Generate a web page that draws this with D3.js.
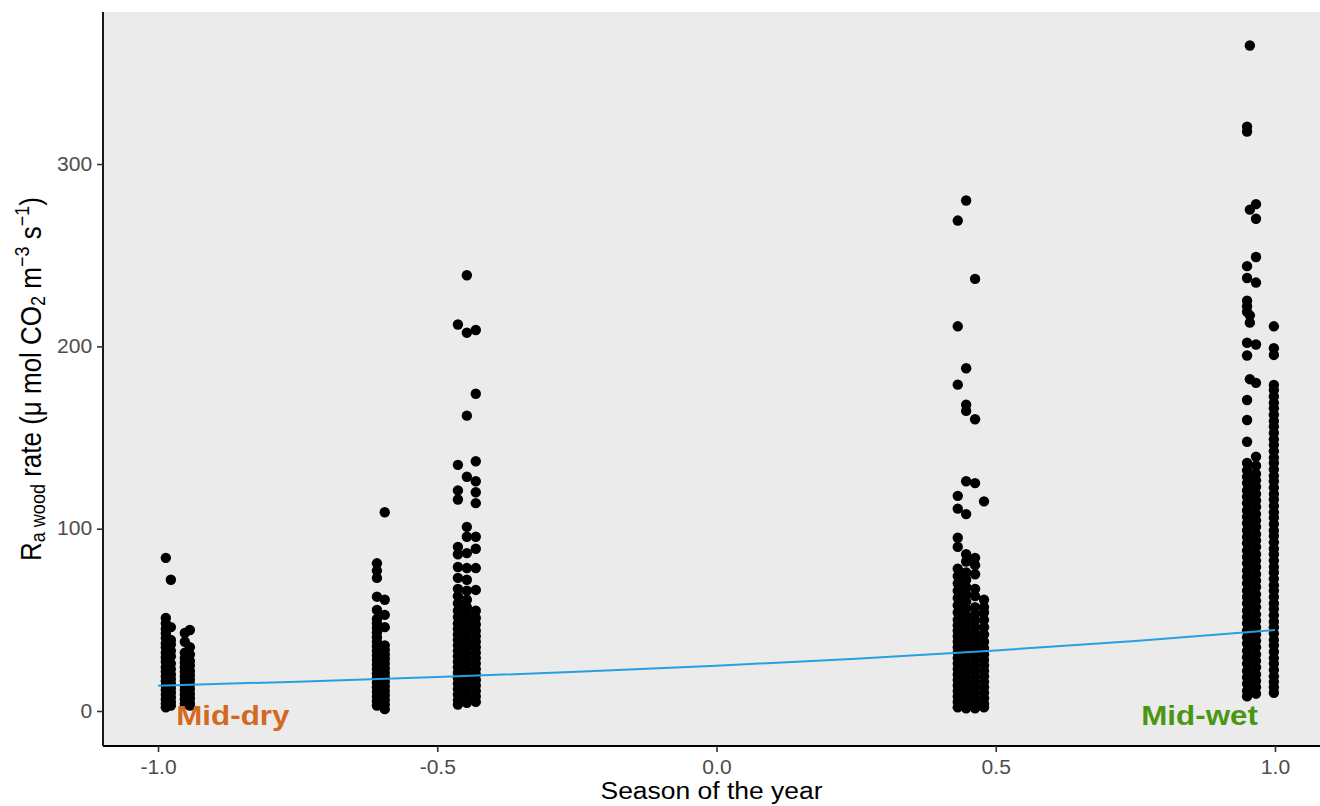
<!DOCTYPE html>
<html>
<head>
<meta charset="utf-8">
<script src="https://cdn.jsdelivr.net/npm/d3@7"></script>
<style>
  html, body { margin: 0; padding: 0; background: #ffffff; }
  svg { display: block; font-family: "Liberation Sans", Arial, sans-serif; }
</style>
</head>
<body>
<svg id="chart" width="1320" height="806"></svg>
<script>
// ---- Axis ticks ----
const xTicks = [-1, -0.5, 0, 0.5, 1];
const xTickLabels = ["-1.0", "-0.5", "0.0", "0.5", "1.0"];
const yTicks = [0, 100, 200, 300];
const yTickLabels = ["0", "100", "200", "300"];

// ---- Measured wood respiration, one array per sampling column (season value) ----
const dryEarlyA = [84, 51, 48, 45, 42.5, 40, 37, 35, 32, 29.5, 27, 24, 21.5, 19, 16.5, 14, 11.5, 9, 6.5, 4, 2];
const dryEarlyB = [72, 46, 39, 36.5, 33, 30, 26, 23, 20, 17.5, 15, 12.5, 10, 7.5, 5, 3];
const dryLateA  = [42.8, 38, 32, 29, 26.5, 24, 21.5, 19, 16.5, 14, 11.5, 9, 6.5, 4];
const dryLateB  = [44.4, 35, 31, 27.5, 25, 22, 19.5, 17, 14.5, 12, 9.5, 7, 4.5, 3];
const transDryA = [81, 77, 73, 62.7, 55.4, 50.5, 48, 45.5, 43, 40.5, 38, 35.5, 33, 30.5, 28, 25.5, 23, 20.5, 18, 15.5, 13, 10.5, 8, 5.5, 3];
const transDryB = [109, 61, 52.7, 46, 36, 33.5, 31, 28.5, 26, 23.5, 21, 18.5, 16, 13.5, 11, 8.5, 6, 3.5, 1];
const transWetA = [212, 135, 121, 116, 90, 86, 79, 73, 67, 63, 59, 55, 51.5, 48, 45, 42, 39, 36, 33, 30, 27, 24, 21, 18, 15, 12, 9, 6, 3.5];
const transWetB = [239, 207.5, 162, 128.5, 101, 95.6, 86.6, 78.4, 72, 66, 61, 57, 53, 49.5, 46, 43.5, 40.5, 37.5, 34.5, 31.5, 28.5, 25.5, 22.5, 19.5, 16.5, 13.5, 10.5, 7.5, 4.5];
const transWetC = [209, 174, 137, 126, 120, 114, 95.6, 89, 78.4, 66.4, 55, 51, 47.5, 44, 41, 38, 35, 32, 29, 26, 23, 20, 17, 14, 11, 8, 5];
const wetEarlyA = [269, 211, 179, 118, 111, 95, 90, 78, 74, 70, 66, 62, 58, 54, 50, 47, 44, 41, 38, 35, 32, 29, 26, 23, 20, 17, 14, 11, 8, 5, 2];
const wetEarlyB = [280, 188, 168, 164.6, 126, 108, 86, 82, 76, 72, 68, 64, 60, 56, 52, 48.5, 45.5, 42.5, 39.5, 36.5, 33.5, 30.5, 27.5, 24.5, 21.5, 18.5, 15.5, 12.5, 9.5, 6.5, 3.5, 1.5];
const wetEarlyC = [237, 160, 125, 84, 80, 75, 67, 63, 57, 53, 49.5, 46, 43, 40, 37, 34, 31, 28, 25, 22, 19, 16, 13, 10, 7, 4, 1.5];
const wetEarlyD = [115, 61, 57, 54, 50, 46, 42, 38, 34.5, 31, 28, 25, 22, 19, 16, 13, 10, 7, 4, 2];
const wetPeakA  = [320.5, 317.8, 244, 237.5, 225, 222, 219, 202, 195, 170.6, 159.6, 147.7, 136, 132, 128.5, 125, 121, 117.5, 114, 110, 106.5, 103, 99, 95.5, 92, 88, 84.5, 81, 77, 73.5, 70, 66, 62.5, 59, 55, 51.5, 48, 44, 40.5, 37, 33, 29.5, 26, 22, 18.5, 15, 11, 8];
const wetPeakB  = [365, 275, 217, 213, 182];
const wetPeakC  = [278, 270, 249, 235, 201, 180, 139.5, 134.5, 130, 126.5, 123, 119, 115.5, 112, 108, 104.5, 101, 97, 93.5, 90, 86, 82.5, 79, 75, 71.5, 68, 64, 60.5, 57, 53, 49.5, 46, 42, 38.5, 35, 31, 27.5, 24, 20, 16.5, 13, 9.5];
const wetPeakD  = [211, 199, 195.3, 178.8, 176, 172.5, 169, 166, 162.5, 159, 156, 152.5, 149, 146, 142.5, 139, 136, 132.5, 129, 126, 122.5, 119, 116, 112.5, 109, 106, 102.5, 99, 96, 92.5, 89, 86, 82.5, 79, 76, 72.5, 69, 66, 62.5, 59, 56, 52.5, 49, 46, 42.5, 39, 36, 32.5, 29, 26, 22.5, 19, 16, 13, 10];

const columnSeason = [-0.986, -0.977, -0.952, -0.943, -0.608, -0.594, -0.463, -0.447, -0.431,
                      0.432, 0.447, 0.463, 0.479, 0.950, 0.955, 0.966, 0.998];
const columnRates = [dryEarlyA, dryEarlyB, dryLateA, dryLateB, transDryA, transDryB,
                     transWetA, transWetB, transWetC, wetEarlyA, wetEarlyB, wetEarlyC, wetEarlyD,
                     wetPeakA, wetPeakB, wetPeakC, wetPeakD];

// ---- Fitted seasonal trend ----
const fitSeason = [-1, -0.75, -0.5, -0.25, 0, 0.25, 0.5, 0.75, 1];
const fitRate   = [13.9, 16.1, 18.6, 21.5, 24.8, 28.7, 33.2, 38.4, 44.4];

// ---- Season annotations ----
const seasonNames  = ["Mid-dry", "Mid-wet"];
const seasonNameX  = [-0.866, 0.865];
const seasonNameY  = [-7.7, -7.7];
const seasonColors = ["#D2691E", "#4A9612"];

// ---- Layout ----
const svg = d3.select("#chart");
const panel = { left: 103, top: 12, right: 1320, bottom: 746 };
const stretch = 1.08;

const x = d3.scaleLinear().domain([-1.0985, 1.0806]).range([panel.left, panel.right]);
const y = d3.scaleLinear().domain([-19.2, 383.4]).range([panel.bottom, panel.top]);

// panel background
svg.append("rect")
  .attr("x", panel.left).attr("y", panel.top)
  .attr("width", panel.right - panel.left).attr("height", panel.bottom - panel.top)
  .attr("fill", "#EBEBEB");

// points
const points = [];
columnSeason.forEach((s, i) => columnRates[i].forEach(r => points.push({ s, r })));
svg.append("g").selectAll("circle").data(points).join("circle")
  .attr("cx", d => x(d.s)).attr("cy", d => y(d.r)).attr("r", 5.2)
  .attr("fill", "#000000");

// trend line
const fit = fitSeason.map((s, i) => ({ s, r: fitRate[i] }));
svg.append("path").datum(fit)
  .attr("d", d3.line().x(d => x(d.s)).y(d => y(d.r)))
  .attr("fill", "none").attr("stroke", "#27A0E2").attr("stroke-width", 2);

// season annotations
svg.append("g").selectAll("text").data(seasonNames).join("text")
  .attr("transform", (d, i) => `translate(${x(seasonNameX[i])},${y(seasonNameY[i])}) scale(1.12,1)`)
  .attr("text-anchor", "middle")
  .attr("font-size", 28).attr("font-weight", "bold")
  .attr("fill", (d, i) => seasonColors[i])
  .text(d => d);

// axes
const yAxis = svg.append("g")
  .attr("transform", `translate(${panel.left},0)`)
  .call(d3.axisLeft(y).tickValues(yTicks).tickFormat((d, i) => yTickLabels[i])
        .tickSize(6).tickSizeOuter(0).tickPadding(4));
const xAxis = svg.append("g")
  .attr("transform", `translate(0,${panel.bottom})`)
  .call(d3.axisBottom(x).tickValues(xTicks).tickFormat((d, i) => xTickLabels[i])
        .tickSize(6).tickSizeOuter(0).tickPadding(8));

[yAxis, xAxis].forEach(g => {
  g.select(".domain").attr("stroke", "#000").attr("stroke-width", 1.8);
  g.selectAll(".tick line").attr("stroke", "#333").attr("stroke-width", 1.6);
  g.selectAll(".tick text")
    .attr("fill", "#4D4D4D").attr("font-size", 19.5)
    .attr("font-family", "Liberation Sans, Arial, sans-serif")
    .attr("transform", `scale(${stretch},1)`);
});
// axis lines run the full panel extent
yAxis.select(".domain").attr("d", `M0,${panel.top}V${panel.bottom}`);
xAxis.select(".domain").attr("d", `M${panel.left},0H${panel.right}`);

// x title
svg.append("text")
  .attr("transform", `translate(${(panel.left + panel.right) / 2},799) scale(${stretch},1)`)
  .attr("text-anchor", "middle").attr("font-size", 24.5).attr("fill", "#000")
  .text("Season of the year");

// y title with sub/superscripts
const yt = svg.append("text")
  .attr("transform", `translate(41,${(panel.top + panel.bottom) / 2}) scale(1.12,1) rotate(-90)`)
  .attr("text-anchor", "middle").attr("font-size", 26).attr("fill", "#000");
yt.append("tspan").text("R");
yt.append("tspan").attr("font-size", 18).attr("dy", 4).text("a wood");
yt.append("tspan").attr("dy", -4).text(" rate (\u03BC mol CO");
yt.append("tspan").attr("font-size", 18).attr("dy", 4).text("2");
yt.append("tspan").attr("dy", -4).text(" m");
yt.append("tspan").attr("font-size", 18).attr("dy", -11).text("\u22123");
yt.append("tspan").attr("dy", 11).text(" s");
yt.append("tspan").attr("font-size", 18).attr("dy", -11).text("\u22121");
yt.append("tspan").attr("dy", 11).text(")");
</script>
</body>
</html>
